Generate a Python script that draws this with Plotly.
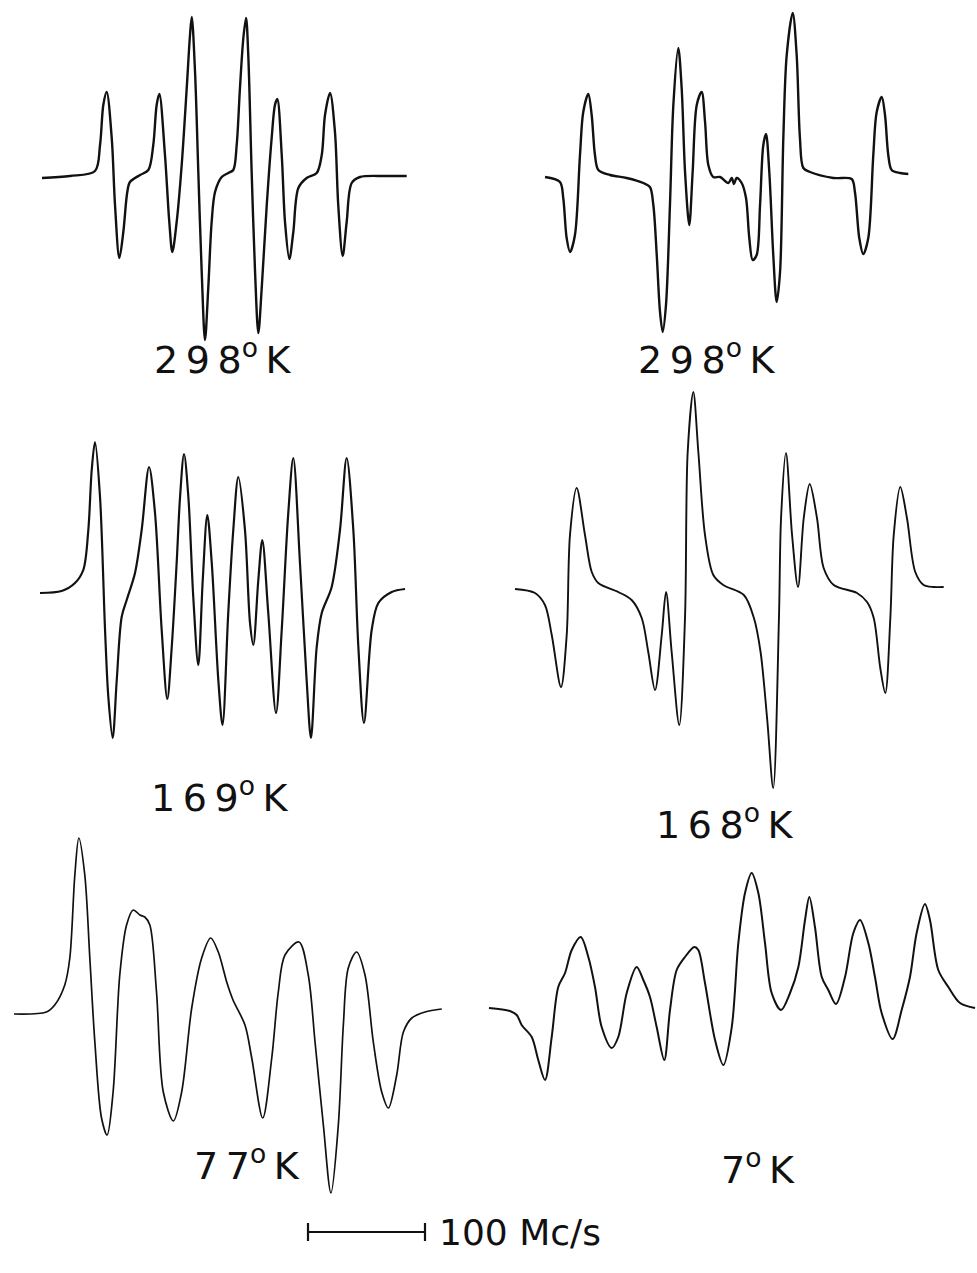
import plotly.graph_objects as go

# ESR spectra of the radical at several temperatures.
# Field offsets in Mc/s from the start of each sweep, signal (first derivative) in arbitrary units.

t298a_field = [0, 23.9, 45.3, 49.6, 52.4, 55.3, 59.6, 62.4, 66.1, 69.5, 72.9, 75.2, 83.8, 90.9, 95.1, 98.0,
               100.3, 105.1, 108.8, 111.4, 115.1, 119.4, 123.7, 126.5, 128.0, 130.8, 133.6, 136.5, 139.3,
               142.1, 145.0, 147.9, 153.6, 159.2, 163.5, 166.4, 169.2, 172.1, 174.4, 176.3, 179.2, 182.1,
               184.9, 187.8, 192.1, 196.3, 199.1, 201.1, 204.9, 207.7, 211.4, 214.8, 219.1, 226.2, 234.8,
               239.1, 241.9, 246.2, 250.4, 253.2, 257.0, 260.4, 264.7, 271.8, 293.2, 311.7]
t298a_signal = [-2, 0, 5, 31, 71, 84, 38, -29, -82, -56, -16, -6, 1, 6, 31, 71,
                82, 21, -46, -76, -46, 11, 88, 141, 159, 104, 4, -96, -164,
                -112, -46, -16, -1, 3, 6, 31, 88, 138, 158, 121, 4, -96,
                -157, -112, -29, 38, 71, 77, 21, -46, -83, -56, -12, -2, 3,
                21, 61, 83, 44, -29, -80, -46, -7, -1, 0, 0]

t298b_field = [0.0, 12.8, 15.6, 18.5, 21.4, 25.6, 29.9, 32.7, 37.0, 39.9, 42.7, 45.6, 55.6, 69.8, 84.0,
               89.7, 92.6, 95.5, 98.3, 100.6, 103.4, 106.8, 109.7, 113.9, 116.8, 119.7, 123.3, 126.2,
               129.7, 133.9, 136.8, 139.6, 143.8, 149.6, 156.7, 159.6, 161.5, 163.8, 168.1, 171.8,
               174.6, 177.5, 180.9, 183.8, 186.6, 188.9, 191.7, 195.1, 198.0, 200.9, 203.7, 206.6,
               211.7, 215.1, 217.9, 220.8, 226.5, 246.4, 262.1, 264.9, 268.6, 272.0, 276.3, 280.6,
               283.5, 287.8, 290.6, 293.4, 296.3, 303.4, 310.5]
t298b_signal = [0, -5, -21, -61, -75, -58, 22, 65, 83, 62, 22, 7, 2, -1, -6,
                -10, -28, -78, -135, -155, -128, -28, 72, 129, 89, 5, -48, 5,
                72, 85, 55, 12, 0, 0, -6, -1, -7, -1, -6, -21,
                -61, -83, -78, -28, 32, 43, 5, -78, -125, -95, 39, 122,
                164, 122, 39, 9, 5, -1, -2, -15, -61, -77, -61, 22,
                65, 80, 62, 22, 7, 4, 3]

t169_field = [0, 18.5, 29.9, 37.0, 41.3, 44.2, 47.0, 51.3, 55.6, 58.4, 62.1, 65.6, 69.8, 74.1, 81.2,
              86.9, 93.2, 98.3, 104.0, 108.8, 112.6, 116.8, 119.7, 123.1, 126.8, 131.0, 135.3, 139.1,
              143.0, 146.8, 152.4, 156.0, 160.9, 165.2, 169.5, 175.2, 179.5, 182.3, 186.6, 190.0,
              195.1, 201.7, 206.6, 212.2, 216.5, 222.2, 227.9, 231.6, 236.5, 240.8, 249.3, 256.4,
              262.1, 267.8, 272.1, 276.9, 283.5, 289.2, 300.6, 312.0]
t169_signal = [-1, 1, 9, 22, 62, 122, 150, 95, -38, -105, -146, -88, -25, -8, 19,
               62, 125, 79, -38, -107, -55, 29, 95, 138, 95, -5, -73, 12,
               77, 29, -88, -133, -21, 62, 115, 62, -31, -53, 12, 52,
               -21, -121, -38, 79, 134, 29, -88, -146, -55, -21, 5, 62,
               134, 62, -55, -131, -38, -11, 0, 3]

t168_field = [0, 17.1, 25.6, 31.4, 39.3, 44.2, 47.0, 52.7, 59.8, 65.6, 71.2, 88.3, 99.7, 108.3, 113.9,
              119.7, 125.4, 129.1, 133.9, 140.4, 145.3, 147.6, 152.4, 156.7, 162.4, 169.5, 178.0,
              195.6, 204.2, 209.9, 215.6, 220.7, 225.6, 227.4, 231.6, 236.8, 241.9, 246.8, 251.9,
              258.1, 263.8, 272.4, 292.3, 300.9, 306.6, 312.2, 316.5, 320.8, 323.7, 329.3, 335.0,
              342.1, 349.3, 357.8, 366.4]
t168_signal = [0, -4, -16, -46, -98, -46, 54, 101, 54, 17, 6, -3, -11, -29, -63,
               -101, -46, -3, -63, -136, -29, 137, 197, 137, 54, 14, 4,
               -6, -29, -63, -131, -199, -29, 71, 136, 54, 2, 71, 105,
               71, 21, 4, -4, -13, -29, -79, -104, -29, 54, 102, 71,
               17, 4, 2, 2]

t77_field = [0, 27.7, 34.8, 43.4, 47.7, 52.0, 55.4, 60.5, 64.8, 69.1, 74.8, 79.6, 84.7, 90.4, 96.2,
             101.9, 107.6, 111.8, 116.1, 121.8, 127.6, 136.2, 143.3, 151.9, 160.4, 168.1, 174.6,
             181.8, 187.2, 197.4, 203.2, 212.6, 220.3, 225.9, 231.6, 243.6, 251.5, 257.3, 264.4,
             270.9, 277.2, 281.5, 285.7, 292.9, 300.0, 307.1, 314.3, 320.0, 327.1, 332.8, 340.0,
             351.3, 365.6]
t77_signal = [-2, 0, 7, 27, 54, 137, 174, 137, 54, -30, -106, -123, -80, 37, 87,
              102, 97, 95, 87, 20, -80, -109, -80, 4, 54, 74, 60,
              30, 12, -13, -46, -106, -46, 20, 57, 70, 37, -30, -113,
              -181, -113, -13, 44, 60, 37, -30, -80, -96, -63, -20, -6,
              0, 3]

t7_field = [0, 17.9, 23.7, 27.9, 36.5, 42.1, 47.9, 53.6, 59.2, 65.0, 70.7, 78.4, 84.9, 90.6, 96.3,
            104.9, 110.5, 117.7, 126.2, 131.9, 137.6, 143.3, 149.8, 154.7, 160.4, 167.5, 175.5,
            178.9, 184.6, 193.2, 200.3, 207.5, 213.1, 218.8, 224.5, 230.2, 235.9, 241.6, 249.6,
            257.3, 264.4, 270.1, 273.8, 278.6, 284.4, 290.0, 296.6, 304.3, 311.4, 317.1, 324.2,
            329.9, 335.6, 345.0, 352.7, 359.8, 365.5, 372.6, 376.9, 384.0, 392.6, 402.6, 415.4]
t7_signal = [0, -3, -7, -17, -29, -52, -72, -29, 21, 35, 58, 71, 51, 21, -19,
             -40, -29, 15, 41, 28, 11, -19, -52, -2, 38, 51, 61,
             58, 25, -32, -57, -19, 65, 115, 135, 115, 65, 15, -2,
             15, 41, 88, 111, 81, 31, 18, 4, 31, 75, 88, 65,
             31, -5, -31, -2, 31, 75, 104, 88, 38, 21, 5, 0]

temperatures = ["298", "298", "169", "168", "77", "7"]
scale_bar_mc = 100
scale_bar_text = "100 Mc/s"

# page layout
W, H = 977, 1273
PX_PER_MC = 1.17     # horizontal scale, pixels per Mc/s
PX_PER_UNIT = 1.0    # vertical scale, pixels per signal unit
THIN = "\u2009"      # lettering is widely spaced


def temp_label(t):
    return THIN.join(t) + "<sup>o</sup>" + THIN + "K"


panels = [
    # field, signal, sweep origin (px), label centre (px), line width
    (t298a_field, t298a_signal, (42, 176), (223, 357), 2.4),
    (t298b_field, t298b_signal, (545, 177), (707, 357), 2.4),
    (t169_field, t169_signal, (40, 592), (220, 795), 2.2),
    (t168_field, t168_signal, (515, 589), (725, 822), 1.9),
    (t77_field, t77_signal, (14, 1012), (247, 1163), 1.7),
    (t7_field, t7_signal, (489, 1008), (758, 1167), 2.0),
]

fig = go.Figure()
layout = dict(width=W, height=H, margin=dict(l=0, r=0, t=0, b=0),
              paper_bgcolor="white", plot_bgcolor="rgba(0,0,0,0)", showlegend=False)
annotations = []

for i, (fx, sy, (ox, oy), (lx, ly), lw) in enumerate(panels, start=1):
    xa = "x" if i == 1 else f"x{i}"
    ya = "y" if i == 1 else f"y{i}"
    fig.add_trace(go.Scatter(x=fx, y=sy, mode="lines", xaxis=xa, yaxis=ya,
                             line=dict(color="#111111", width=lw, shape="spline", smoothing=0.9),
                             cliponaxis=False, hoverinfo="skip"))
    # axis spans chosen so every panel shares the same px/Mc/s and px/unit scale
    px_l = max(0, ox + min(fx) * PX_PER_MC - 6)
    px_r = min(W, ox + max(fx) * PX_PER_MC + 6)
    py_t = max(0, oy - max(sy) * PX_PER_UNIT - 6)
    py_b = min(H, oy - min(sy) * PX_PER_UNIT + 6)
    xkey = "xaxis" if i == 1 else f"xaxis{i}"
    ykey = "yaxis" if i == 1 else f"yaxis{i}"
    layout[xkey] = dict(domain=[px_l / W, px_r / W],
                        range=[(px_l - ox) / PX_PER_MC, (px_r - ox) / PX_PER_MC],
                        visible=False, anchor=ya, fixedrange=True)
    layout[ykey] = dict(domain=[1 - py_b / H, 1 - py_t / H],
                        range=[(oy - py_b) / PX_PER_UNIT, (oy - py_t) / PX_PER_UNIT],
                        visible=False, anchor=xa, fixedrange=True)
    annotations.append(dict(x=lx / W, y=1 - ly / H, xref="paper", yref="paper",
                            text=temp_label(temperatures[i - 1]), showarrow=False,
                            font=dict(family="DejaVu Sans", size=38, color="#111111"),
                            xanchor="center", yanchor="middle"))

# scale bar for 100 Mc/s
bar_x0, bar_y = 308, 1232
bar_x1 = bar_x0 + scale_bar_mc * PX_PER_MC
shapes = [
    dict(type="line", xref="paper", yref="paper", x0=bar_x0 / W, x1=bar_x1 / W,
         y0=1 - bar_y / H, y1=1 - bar_y / H, line=dict(color="#111111", width=2.2)),
    dict(type="line", xref="paper", yref="paper", x0=bar_x0 / W, x1=bar_x0 / W,
         y0=1 - (bar_y - 9) / H, y1=1 - (bar_y + 9) / H, line=dict(color="#111111", width=2.2)),
    dict(type="line", xref="paper", yref="paper", x0=bar_x1 / W, x1=bar_x1 / W,
         y0=1 - (bar_y - 9) / H, y1=1 - (bar_y + 9) / H, line=dict(color="#111111", width=2.2)),
]
annotations.append(dict(x=(bar_x1 + 12) / W, y=1 - bar_y / H, xref="paper", yref="paper",
                        text=scale_bar_text, showarrow=False, xanchor="left", yanchor="middle",
                        font=dict(family="DejaVu Sans", size=36, color="#111111")))

layout["annotations"] = annotations
layout["shapes"] = shapes
fig.update_layout(**layout)
fig.write_html("out.html")
